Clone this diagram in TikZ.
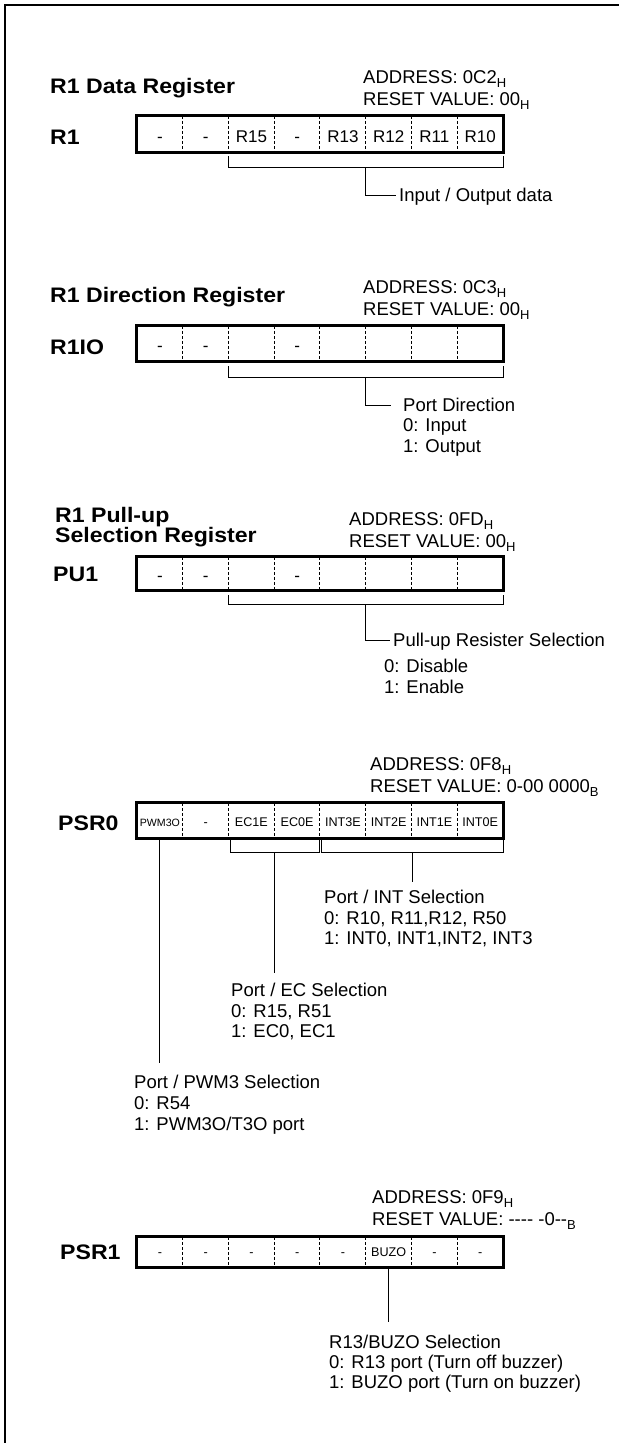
\documentclass[tikz,border=0pt]{standalone}
\usepackage{fontspec}
\usepackage{graphicx}
\setmainfont{Liberation Sans}
\usetikzlibrary{calc}
\newcommand\mysub[1]{\raisebox{-4pt}{\fontsize{13}{13}\selectfont #1}}
\newcommand\wide[1]{\scalebox{1.1}[1]{#1}}
\begin{document}
\begin{tikzpicture}[x=1pt,y=-1pt,
  frame/.style={line width=2pt},
  regbox/.style={line width=3pt},
  divider/.style={line width=1.1pt, dash pattern=on 3pt off 2pt},
  thin/.style={line width=1pt},
  cell/.style={minimum width=45.75pt, inner sep=0pt, anchor=center, text depth=0pt},
  cellbig/.style={cell, font=\fontsize{17}{17}\selectfont, text height=16.2pt},
  cellsmall/.style={cell, font=\fontsize{12.6}{12.6}\selectfont, text height=12pt},
  cellbuzo/.style={cell, font=\fontsize{12.6}{12.6}\selectfont, text height=9pt},
  ttl/.style={font=\bfseries\fontsize{21}{24}\selectfont, anchor=base west, inner sep=0pt},
  addr/.style={font=\fontsize{18.5}{20}\selectfont, anchor=base west, inner sep=0pt},
  txt/.style={font=\fontsize{18.5}{20}\selectfont, anchor=west, inner sep=0pt, text height=13.2pt, text depth=0pt}
]
\useasboundingbox (0,0) rectangle (619,1443);
\draw[frame] (5,1443) -- (5,5) -- (619,5);

% ---------------- R1 Data Register
\node[ttl] (t1) at (50,93) {\wide{R1 Data Register}};
\node[ttl] (l1) at (50,144) {\wide{R1}};
\node[addr] (ad1) at (363,83) {ADDRESS: 0C2\mysub{H}};
\node[addr] (rs1) at (363,105) {RESET VALUE: 00\mysub{H}};
\foreach \t [count=\i from 0] in {-,-,R15,-,R13,R12,R11,R10}
  \node[cellbig, minimum height=36pt] (a\i) at ({137+45.75*\i+22.875},134) {\t};
\foreach \i in {1,...,7} \draw[divider] (a\i.north west) -- (a\i.south west);
\draw[regbox] (a0.north west) rectangle (a7.south east);
\coordinate (a-l) at ($(a2.south west)+(0,4)$);
\coordinate (a-r) at ($(a7.south east)+(0,4)$);
\draw[thin] (a-l) -- ++(0,11) -| (a-r);
\coordinate (a-m) at ($(a-l)!0.5!(a-r)+(0,11)$);
\node[txt] (io) at (399,195) {Input / Output data};
\draw[thin] (a-m) |- ([xshift=-3pt]io.west);

% ---------------- R1 Direction Register
\node[ttl] (t2) at (50,302) {\wide{R1 Direction Register}};
\node[ttl] (l2) at (50,354) {\wide{R1IO}};
\node[addr] (ad2) at (363,293) {ADDRESS: 0C3\mysub{H}};
\node[addr] (rs2) at (363,315) {RESET VALUE: 00\mysub{H}};
\foreach \t [count=\i from 0] in {-,-,{},-,{},{},{},{}}
  \node[cellbig, minimum height=35pt] (b\i) at ({137+45.75*\i+22.875},343.5) {\t};
\foreach \i in {1,...,7} \draw[divider] (b\i.north west) -- (b\i.south west);
\draw[regbox] (b0.north west) rectangle (b7.south east);
\coordinate (b-l) at ($(b2.south west)+(0,5)$);
\coordinate (b-r) at ($(b7.south east)+(0,5)$);
\draw[thin] (b-l) -- ++(0,11) -| (b-r);
\coordinate (b-m) at ($(b-l)!0.5!(b-r)+(0,11)$);
\node[txt] (pd) at (403,405) {Port Direction};
\node[txt] (pd0) at (403,425) {0: Input};
\node[txt] (pd1) at (403,446) {1: Output};
\draw[thin] (b-m) |- ([xshift=-12pt]pd.west);

% ---------------- R1 Pull-up Selection Register
\node[ttl] (t3a) at (55,522) {\wide{R1 Pull-up}};
\node[ttl] (t3b) at (55,542) {\wide{Selection Register}};
\node[ttl] (l3) at (53,581) {\wide{PU1}};
\node[addr] (ad3) at (349,525) {ADDRESS: 0FD\mysub{H}};
\node[addr] (rs3) at (349,547) {RESET VALUE: 00\mysub{H}};
\foreach \t [count=\i from 0] in {-,-,{},-,{},{},{},{}}
  \node[cellbig, minimum height=33pt] (c\i) at ({137+45.75*\i+22.875},573.5) {\t};
\foreach \i in {1,...,7} \draw[divider] (c\i.north west) -- (c\i.south west);
\draw[regbox] (c0.north west) rectangle (c7.south east);
\coordinate (c-l) at ($(c2.south west)+(0,5)$);
\coordinate (c-r) at ($(c7.south east)+(0,5)$);
\draw[thin] (c-l) -- ++(0,9) -| (c-r);
\coordinate (c-m) at ($(c-l)!0.5!(c-r)+(0,9)$);
\node[txt] (pu) at (393,640) {Pull-up Resister Selection};
\node[txt] (pu0) at (384,666) {0: Disable};
\node[txt] (pu1) at (384,687) {1: Enable};
\draw[thin] (c-m) |- ([xshift=-3pt]pu.west);

% ---------------- PSR0
\node[ttl] (l4) at (58,830) {\wide{PSR0}};
\node[addr] (ad4) at (370,770) {ADDRESS: 0F8\mysub{H}};
\node[addr] (rs4) at (370,792) {RESET VALUE: 0-00 0000\mysub{B}};
\foreach \t [count=\i from 0] in {{\fontsize{10.6}{10.6}\selectfont PWM3O},-,EC1E,EC0E,INT3E,INT2E,INT1E,INT0E}
  \node[cellsmall, minimum height=35pt] (d\i) at ({137+45.75*\i+22.875},820.5) {\t};
\foreach \i in {1,...,7} \draw[divider] (d\i.north west) -- (d\i.south west);
\draw[regbox] (d0.north west) rectangle (d7.south east);
% EC bracket
\coordinate (e-l) at ($(d2.south west)+(2,2)$);
\coordinate (e-r) at ($(d3.south east)+(-1,2)$);
\draw[thin] (e-l) -- ++(0,12) -| (e-r);
\coordinate (e-m) at ($(e-l)!0.5!(e-r)+(0,12)$);
% INT bracket
\coordinate (i-l) at ($(d4.south west)+(2,2)$);
\coordinate (i-r) at ($(d7.south east)+(0,2)$);
\draw[thin] (i-l) -- ++(0,12) -| (i-r);
\coordinate (i-m) at ($(i-l)!0.5!(i-r)+(0,12)$);
% INT text
\node[txt] (it) at (324,897) {Port / INT Selection};
\node[txt] (it0) at (324,918) {0: R10, R11,R12, R50};
\node[txt] (it1) at (324,938) {1: INT0, INT1,INT2, INT3};
\coordinate (i-e) at ($(i-m)+(0,30)$);
\draw[thin] (i-m) -- (i-e);
% EC text
\node[txt] (ec) at (231,990) {Port / EC Selection};
\node[txt] (ec0) at (231,1011) {0: R15, R51};
\node[txt] (ec1) at (231,1031) {1: EC0, EC1};
\coordinate (e-e) at ($(e-m)+(0,121)$);
\draw[thin] (e-m) -- (e-e);
% PWM text
\node[txt] (pw) at (134,1082) {Port / PWM3 Selection};
\node[txt] (pw0) at (134,1103) {0: R54};
\node[txt] (pw1) at (134,1124) {1: PWM3O/T3O port};
\coordinate (p-e) at ($(d0.south)+(0,225)$);
\draw[thin] (d0.south) -- (p-e);

% ---------------- PSR1
\node[ttl] (l5) at (60,1259) {\wide{PSR1}};
\node[addr] (ad5) at (372,1203) {ADDRESS: 0F9\mysub{H}};
\node[addr] (rs5) at (372,1225) {RESET VALUE: -\kern0pt-\kern0pt-\kern0pt- -0-\kern0pt-\mysub{B}};
\foreach \t [count=\i from 0] in {-,-,-,-,-,BUZO,-,-}
  \node[cellbuzo, minimum height=30pt] (f\i) at ({137+45.75*\i+22.875},1252) {\t};
\foreach \i in {1,...,7} \draw[divider] (f\i.north west) -- (f\i.south west);
\draw[regbox] (f0.north west) rectangle (f7.south east);
\node[txt] (bz) at (329,1342) {R13/BUZO Selection};
\node[txt] (bz0) at (329,1362) {0: R13 port (Turn off buzzer)};
\node[txt] (bz1) at (329,1382) {1: BUZO port (Turn on buzzer)};
\coordinate (f-e) at ($(f5.south)+(0,55)$);
\draw[thin] (f5.south) -- (f-e);
\end{tikzpicture}
\end{document}
